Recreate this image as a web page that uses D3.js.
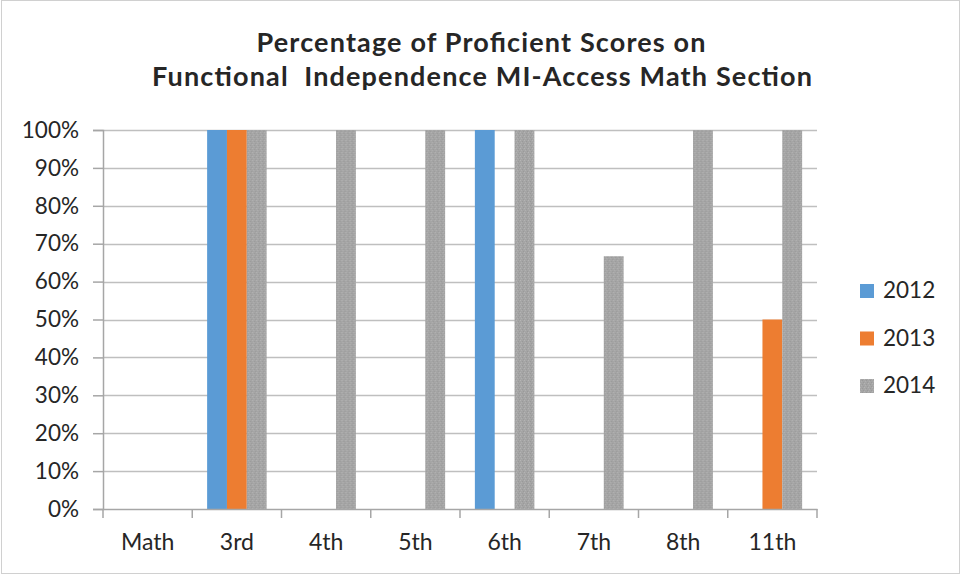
<!DOCTYPE html>
<html>
<head>
<meta charset="utf-8">
<script src="https://cdn.jsdelivr.net/npm/d3@7"></script>
<style>
  body { margin: 0; background: #fff; }
  text { font-family: Lato, "Open Sans", sans-serif; fill: #262626; }
</style>
</head>
<body>
<svg id="chart" width="961" height="575"></svg>
<script>
// chart data
const grades = ['Math', '3rd', '4th', '5th', '6th', '7th', '8th', '11th'];
const years = ['2012', '2013', '2014'];
const scores2012 = [0, 1, 0, 0, 1, 0, 0, 0];
const scores2013 = [0, 1, 0, 0, 0, 0, 0, 0.5];
const scores2014 = [0, 1, 1, 1, 1, 0.667, 1, 1];
const yTicks = [0, 0.1, 0.2, 0.3, 0.4, 0.5, 0.6, 0.7, 0.8, 0.9, 1];
const colors = ['#5b9bd5', '#ed7d31', 'url(#grayTex)'];

const series = [scores2012, scores2013, scores2014];

const svg = d3.select('#chart');

// outer frame
svg.append('rect')
  .attr('x', 1.5).attr('y', 0.5)
  .attr('width', 958).attr('height', 573)
  .attr('fill', 'white')
  .attr('stroke', '#d0d0d0');

// gray bar texture (excel-ish dither)
let defs = svg.append('defs');
let pat = defs.append('pattern')
  .attr('id', 'grayTex')
  .attr('patternUnits', 'userSpaceOnUse')
  .attr('width', 4).attr('height', 4);
pat.append('rect').attr('width', 4).attr('height', 4).attr('fill', '#a5a5a5');
[[0, 0, '#b4b4b4'], [2, 1, '#999999'], [1, 2, '#b0b0b0'], [3, 3, '#9a9a9a']].forEach(p => {
  pat.append('rect').attr('x', p[0]).attr('y', p[1])
    .attr('width', 1).attr('height', 1).attr('fill', p[2]);
});

const plotL = 103, plotR = 817, plotT = 130, plotB = 509;

const x = d3.scaleBand().domain(grades).range([plotL, plotR]);
// excel gap width 150% -> bar = band / 4.5
const x1 = d3.scaleBand().domain(years)
  .range([0, x.bandwidth()])
  .paddingInner(0)
  .paddingOuter(0.75);
const y = d3.scaleLinear().domain([0, 1]).range([plotB, plotT]);

// gridlines
svg.append('g')
  .selectAll('line')
  .data(yTicks.filter(d => d > 0))
  .enter()
  .append('line')
  .attr('x1', plotL).attr('x2', plotR)
  .attr('y1', d => Math.round(y(d)) + 0.5)
  .attr('y2', d => Math.round(y(d)) + 0.5)
  .attr('stroke', '#bfbfbf')
  .attr('stroke-width', 1.5);

// bars
let groups = svg.append('g')
  .selectAll('g')
  .data(grades)
  .enter()
  .append('g')
  .attr('transform', d => 'translate(' + x(d) + ',0)');

groups.selectAll('rect')
  .data((g, i) => years.map((yr, k) => ({yr: yr, v: series[k][i], k: k})).filter(d => d.v > 0))
  .enter()
  .append('rect')
  .attr('x', d => x1(d.yr))
  .attr('width', x1.bandwidth())
  .attr('y', d => y(d.v))
  .attr('height', d => y(0) - y(d.v))
  .attr('fill', d => colors[d.k]);

// y axis
let yAxis = svg.append('g')
  .attr('transform', 'translate(' + plotL + ',0)')
  .call(d3.axisLeft(y).tickValues(yTicks).tickFormat(d3.format('.0%')).tickSize(10).tickPadding(14));
yAxis.select('.domain').attr('stroke', '#a6a6a6').attr('stroke-width', 1.5);
yAxis.selectAll('.tick line').attr('stroke', '#a6a6a6').attr('stroke-width', 1.5);
yAxis.selectAll('text')
  .style('font-family', 'Lato, "Open Sans", sans-serif')
  .style('font-size', '22.5px')
  .attr('fill', '#262626');

// x axis
let xAxis = svg.append('g')
  .attr('transform', 'translate(0,' + plotB + ')')
  .call(d3.axisBottom(x).tickSize(0).tickPadding(25));
xAxis.select('.domain').attr('stroke', '#a6a6a6').attr('stroke-width', 1.5);
xAxis.selectAll('text')
  .style('font-family', 'Lato, "Open Sans", sans-serif')
  .style('font-size', '23px')
  .attr('fill', '#262626');
// category boundary ticks
svg.append('g')
  .selectAll('line')
  .data(grades.concat(['end']))
  .enter()
  .append('line')
  .attr('x1', (d, i) => plotL + i * x.step())
  .attr('x2', (d, i) => plotL + i * x.step())
  .attr('y1', plotB).attr('y2', plotB + 9)
  .attr('stroke', '#a6a6a6')
  .attr('stroke-width', 1.5);

// title
let title = svg.append('text')
  .attr('text-anchor', 'middle')
  .style('font-size', '27px')
  .style('font-weight', 'bold')
  .attr('fill', '#000');
title.append('tspan').attr('x', 481).attr('y', 52)
  .attr('textLength', 449).attr('lengthAdjust', 'spacing')
  .text('Percentage of Proficient Scores on');
title.append('tspan').attr('x', 482).attr('y', 86).style('white-space', 'pre')
  .attr('textLength', 660).attr('lengthAdjust', 'spacing')
  .text('Functional  Independence MI-Access Math Section');

// legend
let legend = svg.append('g')
  .selectAll('g')
  .data(years)
  .enter()
  .append('g')
  .attr('transform', (d, i) => 'translate(860,' + (284 + i * 47.5) + ')');
legend.append('rect')
  .attr('width', 14).attr('height', 14)
  .attr('fill', (d, i) => colors[i]);
legend.append('text')
  .attr('x', 23).attr('y', 14)
  .style('font-size', '22.5px')
  .text(d => d);
</script>
</body>
</html>
